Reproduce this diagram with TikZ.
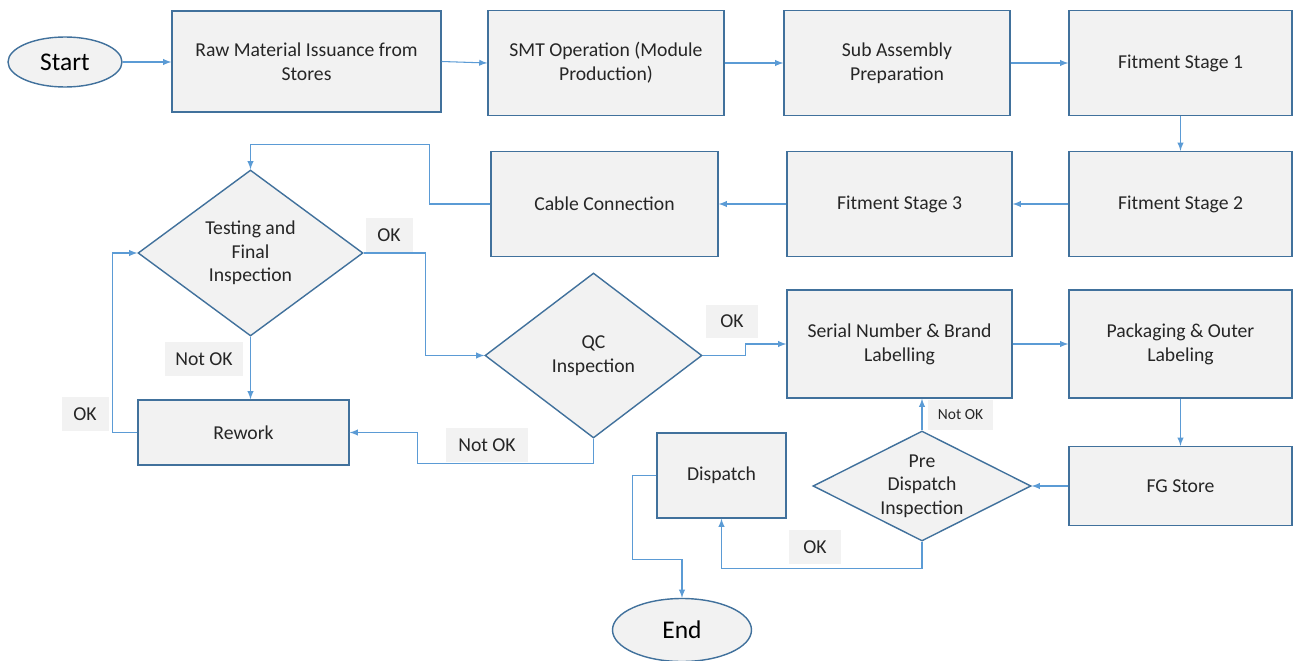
\documentclass[tikz,border=0pt]{standalone}
\usepackage{fontspec}
\setmainfont{Carlito}
\usepackage{xcolor}
\usepackage{tikz}
\usetikzlibrary{calc,arrows,shapes,positioning}

\definecolor{boxline}{HTML}{41719C}
\definecolor{boxfill}{HTML}{F2F2F2}
\definecolor{flowline}{HTML}{5B9BD5}
\definecolor{txt}{HTML}{262626}

\begin{document}
\begin{tikzpicture}[
    stagebox/.style={draw=boxline, fill=boxfill, line width=0.8pt, rectangle, align=center,
      text=txt, font=\fontsize{11.2}{13.6}\selectfont, inner sep=0pt},
    checkbox/.style={draw=boxline, fill=boxfill, line width=0.8pt, diamond, align=center,
      text=txt, font=\fontsize{11.2}{13.4}\selectfont, inner sep=-4mm},
    termbox/.style={draw=boxline, fill=boxfill, line width=0.8pt, ellipse,
      text=black, font=\fontsize{14.5}{16}\selectfont, inner sep=0pt},
    tagbox/.style={fill=boxfill, text=txt, font=\fontsize{11.2}{12}\selectfont,
      minimum height=0.68cm, inner sep=0pt},
    flow/.style={draw=flowline, line width=0.6pt, -latex}
  ]

  \useasboundingbox (0,0) rectangle (25.86,-13.22);

  % terminals
  \node[termbox, minimum width=2.28cm, minimum height=1.0cm] (start) at (1.30,-1.24) {Start};
  \node[termbox, minimum width=2.78cm, minimum height=1.26cm] (finish) at (13.64,-12.60) {End};

  % top row
  \node[stagebox, minimum width=5.38cm, minimum height=2.02cm] (raw) at (6.13,-1.23) {Raw Material Issuance from\\Stores};
  \node[stagebox, minimum width=4.72cm, minimum height=2.10cm] (smt) at (12.12,-1.26) {SMT Operation (Module\\Production)};
  \node[stagebox, minimum width=4.52cm, minimum height=2.10cm] (sub) at (17.94,-1.26) {Sub Assembly\\Preparation};
  \node[stagebox, minimum width=4.46cm, minimum height=2.10cm] (fitone) at (23.61,-1.26) {Fitment Stage 1};

  % second row
  \node[stagebox, minimum width=4.46cm, minimum height=2.10cm] (fittwo) at (23.61,-4.08) {Fitment Stage 2};
  \node[stagebox, minimum width=4.50cm, minimum height=2.10cm] (fitthree) at (17.99,-4.08) {Fitment Stage 3};
  \node[stagebox, minimum width=4.54cm, minimum height=2.10cm] (cable) at (12.09,-4.08) {Cable Connection};

  % checks
  \node[checkbox, minimum width=4.50cm, minimum height=3.32cm] (test) at (5.01,-5.06) {Testing and\\Final\\Inspection};
  \node[checkbox, minimum width=4.34cm, minimum height=3.30cm] (qc) at (11.87,-7.11) {QC\\Inspection};
  \node[checkbox, minimum width=4.36cm, minimum height=2.20cm] (pre) at (18.44,-9.72) {Pre\\Dispatch\\Inspection};

  % lower boxes
  \node[stagebox, minimum width=4.22cm, minimum height=1.30cm] (rework) at (4.87,-8.65) {Rework};
  \node[stagebox, minimum width=4.50cm, minimum height=2.16cm] (serial) at (17.99,-6.88) {Serial Number \& Brand\\Labelling};
  \node[stagebox, minimum width=4.46cm, minimum height=2.16cm] (pack) at (23.61,-6.88) {Packaging \& Outer\\Labeling};
  \node[stagebox, minimum width=4.46cm, minimum height=1.58cm] (fg) at (23.61,-9.72) {FG Store};
  \node[stagebox, minimum width=2.58cm, minimum height=1.70cm] (dispatch) at (14.43,-9.51) {Dispatch};

  % tags
  \node[tagbox, minimum width=0.94cm] (oktest) at (7.78,-4.70) {OK};
  \node[tagbox, minimum width=1.56cm] (notoktest) at (4.08,-7.18) {Not OK};
  \node[tagbox, minimum width=0.94cm] (okrework) at (1.70,-8.28) {OK};
  \node[tagbox, minimum width=1.64cm] (notokqc) at (9.74,-8.90) {Not OK};
  \node[tagbox, minimum width=1.04cm, minimum height=0.66cm] (okqc) at (14.64,-6.43) {OK};
  \node[tagbox, minimum width=1.30cm, minimum height=0.60cm, font=\fontsize{8.8}{10}\selectfont] (notokpre) at (19.21,-8.30) {Not OK};
  \node[tagbox, minimum width=1.04cm] (okpre) at (16.30,-10.94) {OK};

  % flow
  \draw[flow] (start.east) -- (start.east -| raw.west);
  \draw[flow] (raw.east) -- (smt.west);
  \draw[flow] (smt.east) -- (sub.west);
  \draw[flow] (sub.east) -- (fitone.west);
  \draw[flow] (fitone.south) -- (fittwo.north);
  \draw[flow] (fittwo.west) -- (fitthree.east);
  \draw[flow] (fitthree.west) -- (cable.east);
  \draw[flow] (cable.west) -- ++(-1.22,0) |- ($(test.north)+(0,0.5)$) -- (test.north);
  \draw[flow] (test.east) -- ++(1.24,0) |- (qc.west);
  \draw[flow] (test.south) -- (test.south |- rework.north);
  \draw[flow] (rework.west) -- ++(-0.5,0) |- (test.west);
  \draw[flow] (qc.south) -- ++(0,-0.5) -| ($(rework.east)+(1.36,0)$) -- (rework.east);
  \draw[flow] (qc.east) -- ++(0.86,0) |- (serial.west);
  \draw[flow] (serial.east) -- (pack.west);
  \draw[flow] (pack.south) -- (fg.north);
  \draw[flow] (fg.west) -- (pre.east);
  \draw[flow] (pre.north) -- (pre.north |- serial.south);
  \draw[flow] (pre.south) -- ++(0,-0.54) -| (dispatch.south);
  \draw[flow] (dispatch.west) -- ++(-0.48,0) |- ($(finish.north)+(0,0.76)$) -- (finish.north);

\end{tikzpicture}
\end{document}
